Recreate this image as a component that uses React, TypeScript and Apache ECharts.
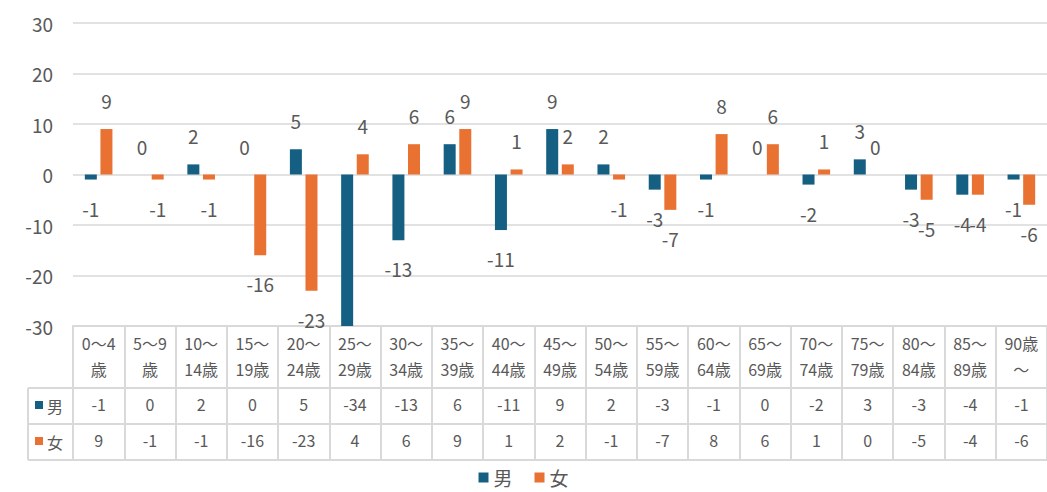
import React, { useEffect, useRef } from "react";
import * as echarts from "echarts";

const categories = [
  "0～4\n歳", "5～9\n歳", "10～\n14歳", "15～\n19歳", "20～\n24歳", "25～\n29歳",
  "30～\n34歳", "35～\n39歳", "40～\n44歳", "45～\n49歳", "50～\n54歳", "55～\n59歳",
  "60～\n64歳", "65～\n69歳", "70～\n74歳", "75～\n79歳", "80～\n84歳", "85～\n89歳", "90歳\n～",
];
const maleValues = [-1, 0, 2, 0, 5, -34, -13, 6, -11, 9, 2, -3, -1, 0, -2, 3, -3, -4, -1];
const femaleValues = [9, -1, -1, -16, -23, 4, 6, 9, 1, 2, -1, -7, 8, 6, 1, 0, -5, -4, -6];
const seriesNames = ["男", "女"];
const yMin = -30;
const yMax = 30;
const yStep = 10;

const MALE = "#156082";
const FEMALE = "#E97132";
const TEXT = "#595959";
const LINE = "#d9d9d9";
const FONT = "'Noto Sans CJK JP', 'Noto Sans', sans-serif";

const toData = (vals: number[]) =>
  vals.map((v) => ({
    value: v,
    label: { show: v >= yMin && v <= yMax, position: v < 0 ? "bottom" : "top" },
  }));

export default function App() {
  const ref = useRef<HTMLDivElement>(null);
  useEffect(() => {
    if (!ref.current) return;
    const chart = echarts.init(ref.current, undefined, { renderer: "svg" });
    const gridLeft = 73;
    const gridTop = 23;
    const gridBottomY = 326;
    const H = 492;
    const rowLine = (y: number) => ({
      type: "line",
      shape: { x1: 28, y1: y, x2: 73, y2: y },
      style: { stroke: LINE, lineWidth: 2 },
      silent: true,
    });
    const rowAxis = (offset: number, vals: number[] | null) => ({
      type: "category",
      gridIndex: 0,
      data: categories,
      position: "bottom",
      offset,
      axisLine: { show: true, onZero: false, lineStyle: { color: LINE, width: 2 } },
      axisTick: { show: false },
      axisLabel: vals
        ? {
            show: true,
            interval: 0,
            margin: 8,
            color: TEXT,
            fontSize: 16,
            fontFamily: FONT,
            formatter: (_v: string, i: number) => String(vals[i]),
          }
        : { show: false },
      splitLine: { show: false },
    });
    chart.setOption({
      animation: false,
      textStyle: { fontFamily: FONT },
      grid: { left: gridLeft, right: 0, top: gridTop, bottom: H - gridBottomY, containLabel: false },
      legend: {
        data: seriesNames,
        bottom: 0,
        left: "center",
        icon: "rect",
        itemWidth: 10,
        itemHeight: 10,
        itemGap: 22,
        textStyle: { color: TEXT, fontSize: 19, fontFamily: FONT },
      },
      xAxis: [
        {
          type: "category",
          gridIndex: 0,
          data: categories,
          position: "bottom",
          axisLine: { show: true, onZero: false, lineStyle: { color: LINE, width: 2 } },
          axisTick: { show: true, interval: 0, length: 134, lineStyle: { color: LINE, width: 2 } },
          axisLabel: {
            interval: 0,
            margin: 4,
            color: TEXT,
            fontSize: 16,
            lineHeight: 26,
            fontFamily: FONT,
          },
          splitLine: { show: false },
        },
        rowAxis(62, maleValues),
        rowAxis(98, femaleValues),
        rowAxis(134, null),
      ],
      yAxis: {
        type: "value",
        min: yMin,
        max: yMax,
        interval: yStep,
        axisLine: { show: false },
        axisTick: { show: false },
        axisLabel: { color: TEXT, fontSize: 19, margin: 20, fontFamily: FONT },
        splitLine: { lineStyle: { color: LINE, width: 1.5 } },
      },
      series: [
        {
          name: seriesNames[0],
          type: "bar",
          xAxisIndex: 0,
          data: toData(maleValues),
          barWidth: 12,
          barGap: "30%",
          clip: true,
          itemStyle: { color: MALE },
          label: { distance: 19, color: TEXT, fontSize: 19, fontFamily: FONT },
        },
        {
          name: seriesNames[1],
          type: "bar",
          xAxisIndex: 0,
          data: toData(femaleValues),
          barWidth: 12,
          barGap: "30%",
          clip: true,
          itemStyle: { color: FEMALE },
          label: { distance: 19, color: TEXT, fontSize: 19, fontFamily: FONT },
        },
      ],
      graphic: [
        rowLine(388),
        rowLine(424),
        rowLine(460),
        {
          type: "line",
          shape: { x1: 28, y1: 388, x2: 28, y2: 460 },
          style: { stroke: LINE, lineWidth: 2 },
          silent: true,
        },
        { type: "rect", shape: { x: 35, y: 401, width: 8, height: 8 }, style: { fill: MALE }, silent: true },
        { type: "rect", shape: { x: 35, y: 437, width: 8, height: 8 }, style: { fill: FEMALE }, silent: true },
        {
          type: "text",
          x: 47,
          y: 406,
          style: { text: seriesNames[0], fill: TEXT, fontSize: 16, fontFamily: FONT, verticalAlign: "middle" },
          silent: true,
        },
        {
          type: "text",
          x: 47,
          y: 442,
          style: { text: seriesNames[1], fill: TEXT, fontSize: 16, fontFamily: FONT, verticalAlign: "middle" },
          silent: true,
        },
      ],
    });
    return () => chart.dispose();
  }, []);
  return (
    <div
      ref={ref}
      style={{ position: "absolute", left: 0, top: 0, width: 1047, height: 492, background: "#fff" }}
    />
  );
}
